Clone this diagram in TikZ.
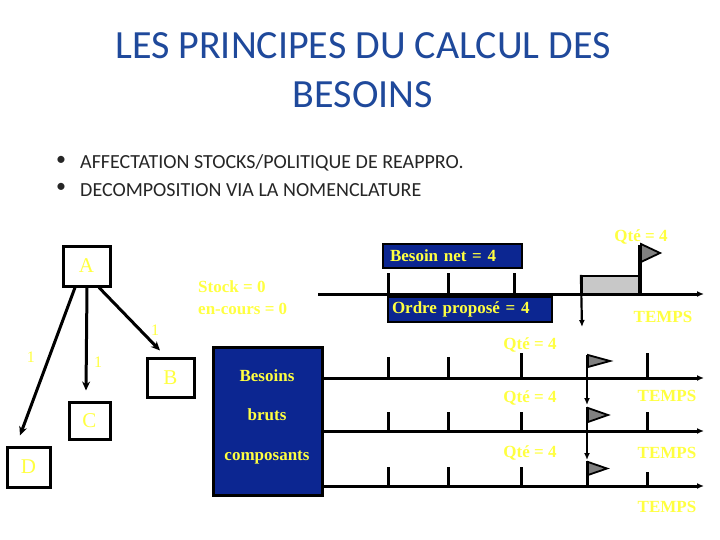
\documentclass[tikz,border=0pt]{standalone}
\usepackage{fontspec}
\setmainfont{Liberation Serif}
\newfontfamily\calfont{Carlito}
\usetikzlibrary{arrows.meta}
\definecolor{ttl}{RGB}{31,73,155}
\definecolor{yel}{RGB}{255,255,64}
\definecolor{navyfill}{RGB}{12,38,145}
\definecolor{flaggray}{RGB}{128,128,128}
\definecolor{rectgray}{RGB}{200,200,200}
\tikzset{
  treebox/.style={draw, line width=3pt, text=yel, font=\fontsize{21}{24}\selectfont, inner sep=0pt},
  treearr/.style={line width=3pt, -{Stealth[length=9pt,width=8pt]}},
  qty/.style={text=yel, font=\bfseries\fontsize{17}{20}\selectfont, inner sep=0pt},
  one/.style={text=yel, font=\fontsize{16}{19}\selectfont, inner sep=0pt},
  tline/.style={line width=3pt, -{Latex[length=7pt,width=6pt]}},
  tick/.style={line width=3pt},
  lblbox/.style={draw, line width=2.5pt, fill=navyfill, text=yel, font=\bfseries\fontsize{17}{20}\selectfont, inner ysep=0pt, align=left},
  flag/.style={draw, line width=1.8pt, fill=flaggray, line join=miter},
  downarr/.style={line width=2.2pt, -{Latex[length=7pt,width=6pt]}},
  bul/.style={font=\calfont\fontsize{20}{24}\selectfont, text=black!85, inner sep=0pt},
  ttlfont/.style={font=\calfont\fontsize{40}{48}\selectfont, text=ttl},
}
\begin{document}
\begin{tikzpicture}[x=1pt,y=-1pt]
\useasboundingbox[fill=white] (0,0) rectangle (720,540);
% title
\node[ttlfont] (t1) at (363,46) {LES PRINCIPES DU CALCUL DES};
\node[ttlfont] (t2) at (363,95) {BESOINS};
% bullets
\node[bul, anchor=west] (b1) at (80,163) {AFFECTATION STOCKS/POLITIQUE DE REAPPRO.};
\node[bul, anchor=west] (b2) at (80,190) {DECOMPOSITION VIA LA NOMENCLATURE};
\node[bul] (d1) at (61,161) {•};
\node[bul] (d2) at (61,188) {•};
% tree
\node[treebox, minimum width=47, minimum height=40] (A) at (86.5,266) {A};
\node[treebox, minimum width=47, minimum height=39] (B) at (170.5,377.5) {B};
\node[treebox, minimum width=41, minimum height=37] (C) at (89.5,420.5) {C};
\node[treebox, minimum width=43, minimum height=40] (D) at (28.5,467) {D};
\draw[treearr] ([xshift=-11.5pt]A.south) -- ([xshift=-8.5pt,yshift=10pt]D.north);
\draw[treearr] ([xshift=0.5pt]A.south) -- ([xshift=-3.5pt,yshift=10pt]C.north);
\draw[treearr] ([xshift=12.5pt]A.south) -- ([xshift=-10.5pt,yshift=6pt]B.north);
\node[one] (n1) at (31,357) {1};
\node[one] (n2) at (98,362) {1};
\node[one] (n3) at (155,330) {1};
% stock
\node[qty, anchor=west] (s1) at (198,287) {Stock = 0};
\node[qty, anchor=west] (s2) at (198,309) {en-cours = 0};
% blue box
\node[draw, line width=3pt, fill=navyfill, minimum width=109, minimum height=148] (bb) at (267.5,421) {};
\node[qty] (bb1) at (267,376) {Besoins};
\node[qty] (bb2) at (267,415) {bruts};
\node[qty] (bb3) at (267,458) {composants};
% timeline 1
\coordinate (L1s) at (318,294);
\coordinate (L1e) at (704,294);
\foreach \x in {388,448,514} \draw[tick] (\x,273) -- (\x,294);
\node[draw, line width=2.2pt, fill=rectgray, minimum width=58, minimum height=18, inner sep=0pt] (gr) at (611,285) {};
\draw[tline] (L1s) -- (L1e);
\coordinate (p1t) at (640,245);
\draw[line width=4pt] (p1t) -- (640,295);
\draw[flag] (641,244) -- (660,253) -- (641,262) -- cycle;
\coordinate (d1e) at (582,327);
\draw[downarr] (gr.north west) -- (d1e);
\node[lblbox, text width=125, minimum height=24, inner xsep=7pt] (bn) at (452.5,256) {Besoin net = 4};
\node[lblbox, text width=156, minimum height=25, inner xsep=4pt] (op) at (470,309.5) {Ordre propos\'e = 4};
\node[qty] (q1) at (641,237) {Qt\'e = 4};
\node[qty] (tp1) at (663,317) {TEMPS};
% timelines 2-4
\foreach \y/\n in {378/2,431/3,486/4} {
  \coordinate (L\n s) at (322,\y);
  \coordinate (L\n e) at (704,\y);
}
\foreach \x in {388,448} {
  \draw[tick] (\x,357) -- (\x,378);
  \draw[tick] (\x,412) -- (\x,431);
  \draw[tick] (\x,467) -- (\x,486);
}
\draw[tick] (521,353) -- (521,378);
\draw[tick] (521,412) -- (521,431);
\draw[tick] (521,467) -- (521,486);
\draw[tick] (647,353) -- (647,378);
\draw[tick] (647,412) -- (647,431);
\draw[tick] (647,472) -- (647,486);
\draw[tline] (L2s) -- (L2e);
\draw[tline] (L3s) -- (L3e);
\draw[tline] (L4s) -- (L4e);
% flags lines 2-4
\coordinate (f2) at (587,355);
\coordinate (f3) at (587,407);
\coordinate (f4) at (587,461);
\draw[downarr] (f2) -- (587,405);
\draw[downarr] (f3) -- (587,460);
\draw[line width=3pt] (f4) -- (587,487);
\draw[flag] (588,355) -- (610,361) -- (588,367) -- cycle;
\draw[flag] (588,408) -- (608,415) -- (588,422) -- cycle;
\draw[flag] (588,462) -- (607,468.5) -- (588,475) -- cycle;
\node[qty] (q2) at (530,345) {Qt\'e = 4};
\node[qty] (q3) at (530,398) {Qt\'e = 4};
\node[qty] (q4) at (530,453) {Qt\'e = 4};
\node[qty] (tp2) at (667,396) {TEMPS};
\node[qty] (tp3) at (667,453) {TEMPS};
\node[qty] (tp4) at (667,507) {TEMPS};
\end{tikzpicture}
\end{document}
